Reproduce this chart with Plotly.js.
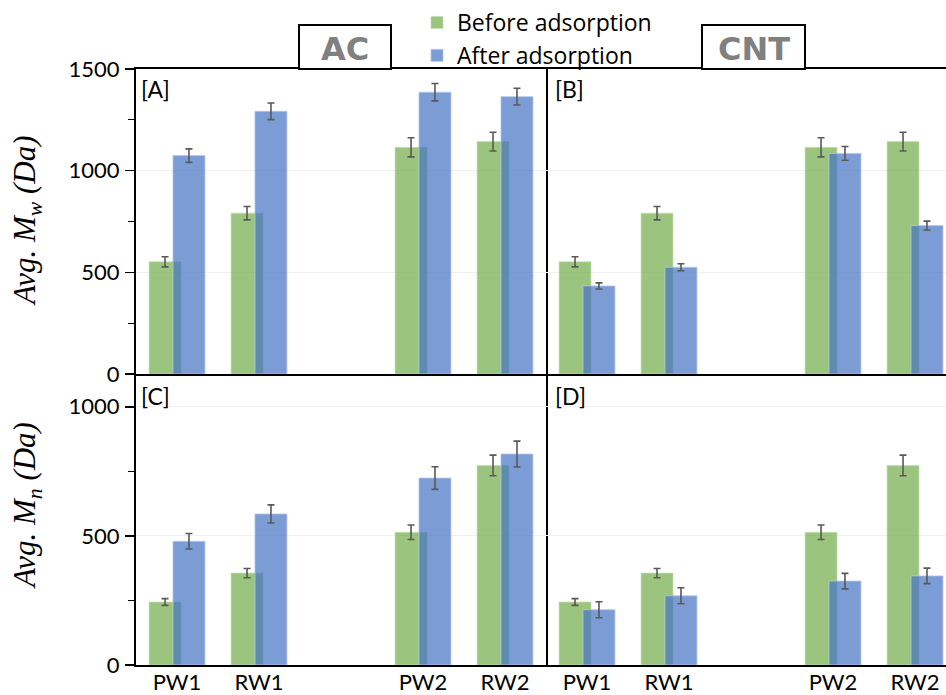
<!DOCTYPE html>
<html>
<head>
<meta charset="utf-8">
<script src="https://cdn.plot.ly/plotly-3.0.1.min.js"></script>
<style>html,body{margin:0;padding:0;background:#fff;}#chart{width:946px;height:695px;}</style>
</head>
<body>
<div id="chart"></div>
<script>
// ---- data ----
const categories = ['PW1', 'RW1', ' ', 'PW2', 'RW2'];   // ' ' is the empty gap slot
const tickLabels = ['PW1', 'RW1', 'PW2', 'RW2'];
const seriesNames = ['Before adsorption', 'After adsorption'];

const mwBefore      = [552, 791, null, 1115, 1143];
const mwBeforeErr   = [25, 33, null, 47, 46];
const mwAfterAC     = [1074, 1292, null, 1386, 1364];
const mwAfterACErr  = [33, 41, null, 43, 41];
const mwAfterCNT    = [433, 525, null, 1085, 730];
const mwAfterCNTErr = [15, 17, null, 34, 22];

const mnBefore      = [244, 356, null, 514, 773];
const mnBeforeErr   = [13, 18, null, 28, 40];
const mnAfterAC     = [479, 585, null, 724, 817];
const mnAfterACErr  = [30, 35, null, 44, 50];
const mnAfterCNT    = [214, 268, null, 325, 345];
const mnAfterCNTErr = [31, 31, null, 30, 30];

const panelLabels = ['[A]', '[B]', '[C]', '[D]'];
const adsorbents = ['AC', 'CNT'];
const yTitles = ['<i>Avg. M</i><sub><i>w</i></sub><i> (Da)</i>', '<i>Avg. M</i><sub><i>n</i></sub><i> (Da)</i>'];

// ---- styling / layout helpers ----
const W = 946, H = 695;
const px = x => x / W;
const py = y => 1 - y / H;
const GREEN = 'rgba(112,173,71,0.7)';
const BLUE = 'rgba(68,114,196,0.7)';
const ERR = '#595959';
const FONT = 'Lato, "Open Sans", sans-serif';

function bar(name, y, err, color, xa, ya, offset, show, lineColor) {
  return {
    type: 'bar', name: name, x: categories, y: y,
    xaxis: xa, yaxis: ya, width: 0.39, offset: offset,
    marker: {color: color, line: {color: lineColor, width: 1}},
    error_y: {type: 'data', array: err, visible: true, color: ERR, thickness: 1.6, width: 3.5},
    showlegend: show, hoverinfo: 'y'
  };
}

const gOff = -0.341, bOff = -0.049;
const GL = 'rgba(197,224,180,0.7)', BL = 'rgba(180,199,231,0.8)';
const traces = [
  bar(seriesNames[0], mwBefore, mwBeforeErr, GREEN, 'x', 'y', gOff, true, GL),
  bar(seriesNames[1], mwAfterAC, mwAfterACErr, BLUE, 'x', 'y', bOff, true, BL),
  bar(seriesNames[0], mwBefore, mwBeforeErr, GREEN, 'x2', 'y2', gOff, false, GL),
  bar(seriesNames[1], mwAfterCNT, mwAfterCNTErr, BLUE, 'x2', 'y2', bOff, false, BL),
  bar(seriesNames[0], mnBefore, mnBeforeErr, GREEN, 'x3', 'y3', gOff, false, GL),
  bar(seriesNames[1], mnAfterAC, mnAfterACErr, BLUE, 'x3', 'y3', bOff, false, BL),
  bar(seriesNames[0], mnBefore, mnBeforeErr, GREEN, 'x4', 'y4', gOff, false, GL),
  bar(seriesNames[1], mnAfterCNT, mnAfterCNTErr, BLUE, 'x4', 'y4', bOff, false, BL)
];

const leftDom = [px(136), px(546)];
const rightDom = [px(546), 1];
const topDom = [py(374), py(69)];
const botDom = [py(665), py(374)];
const leftRange = [-0.5, 4.5];
const rightRange = [-0.5, 4.378];

function xax(dom, range, anchor, labels, showline, mirror) {
  return {
    domain: dom, range: range, anchor: anchor, type: 'category',
    categoryorder: 'array', categoryarray: categories,
    tickmode: 'array', tickvals: tickLabels, ticktext: tickLabels,
    showline: showline, linecolor: '#000', linewidth: 2, mirror: mirror,
    ticks: '', showticklabels: labels, showgrid: false, zeroline: false,
    ticklabelstandoff: -3,
    tickfont: {family: FONT, size: 22, color: '#000'}, fixedrange: true
  };
}
function yax(dom, range, anchor, labels, showline, mirror) {
  const a = {
    domain: dom, range: range, anchor: anchor,
    showline: showline, linecolor: '#000', linewidth: 2, mirror: mirror,
    showgrid: true, gridcolor: '#f0f0f0', gridwidth: 1, zeroline: false,
    dtick: 500, tick0: 0, showticklabels: labels,
    tickfont: {family: FONT, size: 22, color: '#000'}, fixedrange: true
  };
  if (labels) {
    a.ticks = 'outside'; a.ticklen = 9; a.tickwidth = 1.5; a.tickcolor = '#000';
    a.ticklabelstandoff = 1;
    a.minor = {dtick: 250, ticks: 'outside', ticklen: 6, tickwidth: 1.2, tickcolor: '#000', showgrid: false};
  } else {
    a.ticks = '';
  }
  return a;
}

const layout = {
  width: W, height: H,
  margin: {l: 0, r: 0, t: 0, b: 0},
  paper_bgcolor: '#fff', plot_bgcolor: 'rgba(0,0,0,0)',
  barmode: 'overlay',
  xaxis: xax(leftDom, leftRange, 'y', false, true, true),
  yaxis: yax(topDom, [0, 1500], 'x', true, true, true),
  xaxis2: xax(rightDom, rightRange, 'y2', false, true, true),
  yaxis2: yax(topDom, [0, 1500], 'x2', false, false, false),
  xaxis3: xax(leftDom, leftRange, 'y3', true, true, false),
  yaxis3: yax(botDom, [0, 1127], 'x3', true, true, true),
  xaxis4: xax(rightDom, rightRange, 'y4', true, true, false),
  yaxis4: yax(botDom, [0, 1127], 'x4', false, false, false),
  legend: {
    x: px(417), y: py(1), xanchor: 'left', yanchor: 'top',
    font: {family: '"Open Sans", sans-serif', size: 23, color: '#000'},
    bgcolor: 'rgba(0,0,0,0)', traceorder: 'normal', tracegroupgap: 0
  },
  shapes: [
    {type: 'rect', xref: 'paper', yref: 'paper', x0: px(299), x1: px(391), y0: py(69), y1: py(25),
     line: {color: '#000', width: 2}, fillcolor: '#fff'},
    {type: 'rect', xref: 'paper', yref: 'paper', x0: px(702), x1: px(805), y0: py(69), y1: py(25),
     line: {color: '#000', width: 2}, fillcolor: '#fff'}
  ],
  annotations: [
    {text: adsorbents[0], xref: 'paper', yref: 'paper', x: px(345), y: py(49), showarrow: false,
     xanchor: 'center', yanchor: 'middle', font: {family: 'DejaVu Sans', size: 32, color: '#808080', weight: 'bold'}},
    {text: adsorbents[1], xref: 'paper', yref: 'paper', x: px(753.5), y: py(49), showarrow: false,
     xanchor: 'center', yanchor: 'middle', font: {family: 'DejaVu Sans', size: 32, color: '#808080', weight: 'bold'}},
    {text: panelLabels[0], xref: 'paper', yref: 'paper', x: px(139), y: py(89), showarrow: false,
     xanchor: 'left', yanchor: 'middle', font: {family: FONT, size: 23, color: '#000'}},
    {text: panelLabels[1], xref: 'paper', yref: 'paper', x: px(553), y: py(89), showarrow: false,
     xanchor: 'left', yanchor: 'middle', font: {family: FONT, size: 23, color: '#000'}},
    {text: panelLabels[2], xref: 'paper', yref: 'paper', x: px(139), y: py(396), showarrow: false,
     xanchor: 'left', yanchor: 'middle', font: {family: FONT, size: 23, color: '#000'}},
    {text: panelLabels[3], xref: 'paper', yref: 'paper', x: px(553), y: py(396), showarrow: false,
     xanchor: 'left', yanchor: 'middle', font: {family: FONT, size: 23, color: '#000'}},
    {text: yTitles[0], xref: 'paper', yref: 'paper', x: px(27), y: py(221), showarrow: false, textangle: -90,
     xanchor: 'center', yanchor: 'middle', font: {family: '"Liberation Serif", serif', size: 31, color: '#000'}},
    {text: yTitles[1], xref: 'paper', yref: 'paper', x: px(27), y: py(506), showarrow: false, textangle: -90,
     xanchor: 'center', yanchor: 'middle', font: {family: '"Liberation Serif", serif', size: 31, color: '#000'}}
  ]
};

Plotly.newPlot('chart', traces, layout, {displayModeBar: false, staticPlot: true});
</script>
</body>
</html>
